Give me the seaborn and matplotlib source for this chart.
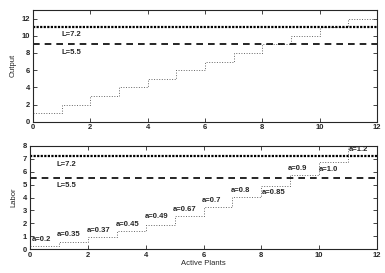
import numpy as np
import pandas as pd
import matplotlib
matplotlib.use('Agg')
import matplotlib.pyplot as plt
import seaborn as sns

sns.set_style('ticks')
plt.rcParams['font.family'] = ['Liberation Sans', 'DejaVu Sans']

# data
plants = [0, 1, 2, 3, 4, 5, 6, 7, 8, 9, 10, 11, 12]
output = [1, 2, 3, 4, 5, 6, 7, 8, 9, 10, 11, 12, 12]
labor = [0.2, 0.55, 0.92, 1.37, 1.86, 2.53, 3.23, 4.03, 4.88, 5.78, 6.78, 7.98, 7.98]
a_labels = ['a=0.2', 'a=0.35', 'a=0.37', 'a=0.45', 'a=0.49', 'a=0.67',
            'a=0.7', 'a=0.8', 'a=0.85', 'a=0.9', 'a=1.0', 'a=1.2']
a_x = [0.07, 0.93, 1.97, 2.95, 3.97, 4.93, 5.95, 6.93, 8.03, 8.93, 10.0, 11.03]
a_y = [0.75, 1.09, 1.42, 1.91, 2.5, 3.1, 3.8, 4.57, 4.4, 6.25, 6.2, 7.7]
out_lines = [11, 9]
lab_lines = [7.2, 5.5]
line_names = ['L=7.2', 'L=5.5']

df_out = pd.DataFrame({'plants': plants, 'output': output})
df_lab = pd.DataFrame({'plants': plants, 'labor': labor})

fig = plt.figure(figsize=(3.85, 2.73), dpi=100)
ax1 = fig.add_axes([33/385, 1-121.7/273, (377-33)/385, (121.7-10)/273])
ax2 = fig.add_axes([30/385, 1-249/273, (377-30)/385, (249-146)/273])

fs = 5.5

# top panel
sns.lineplot(data=df_out, x='plants', y='output', ax=ax1, drawstyle='steps-post',
             color='#666666', linestyle=':', linewidth=0.7)
ax1.axhline(out_lines[0], color='black', linestyle=(0, (1, 0.6)), linewidth=1.6)
ax1.axhline(out_lines[1], color='black', linestyle=(0, (4, 3)), linewidth=1.2)
ax1.text(1.0, 10.2, line_names[0], fontsize=fs, va='center', fontweight='bold')
ax1.text(1.0, 8.1, line_names[1], fontsize=fs, va='center', fontweight='bold')
ax1.set_xlim(0, 12)
ax1.set_ylim(0, 13)
ax1.set_xticks(range(0, 13, 2))
ax1.set_yticks(range(0, 13, 2))
ax1.set_xlabel('')
ax1.set_ylabel('Output', fontsize=fs)

# bottom panel
sns.lineplot(data=df_lab, x='plants', y='labor', ax=ax2, drawstyle='steps-post',
             color='#666666', linestyle=':', linewidth=0.7)
ax2.axhline(lab_lines[0], color='black', linestyle=(0, (1, 0.6)), linewidth=1.6)
ax2.axhline(lab_lines[1], color='black', linestyle=(0, (4, 3)), linewidth=1.2)
ax2.text(0.93, 6.57, line_names[0], fontsize=fs, va='center', fontweight='bold')
ax2.text(0.93, 4.9, line_names[1], fontsize=fs, va='center', fontweight='bold')
for lx, ly, lt in zip(a_x, a_y, a_labels):
    ax2.text(lx, ly, lt, fontsize=fs, va='center', ha='left', fontweight='bold')
ax2.set_xlim(0, 12)
ax2.set_ylim(0, 8)
ax2.set_xticks(range(0, 13, 2))
ax2.set_yticks(range(0, 9))
ax2.set_xlabel('Active Plants', fontsize=fs, labelpad=1)
ax2.set_ylabel('Labor', fontsize=fs)

for ax in (ax1, ax2):
    ax.tick_params(direction='in', top=True, right=True, labelsize=fs, length=3,
                   width=0.6, pad=2)
    for lab in ax.get_xticklabels() + ax.get_yticklabels():
        lab.set_fontweight('bold')
    for s in ax.spines.values():
        s.set_linewidth(0.8)
        s.set_visible(True)

fig.savefig('out.png', dpi=100)
